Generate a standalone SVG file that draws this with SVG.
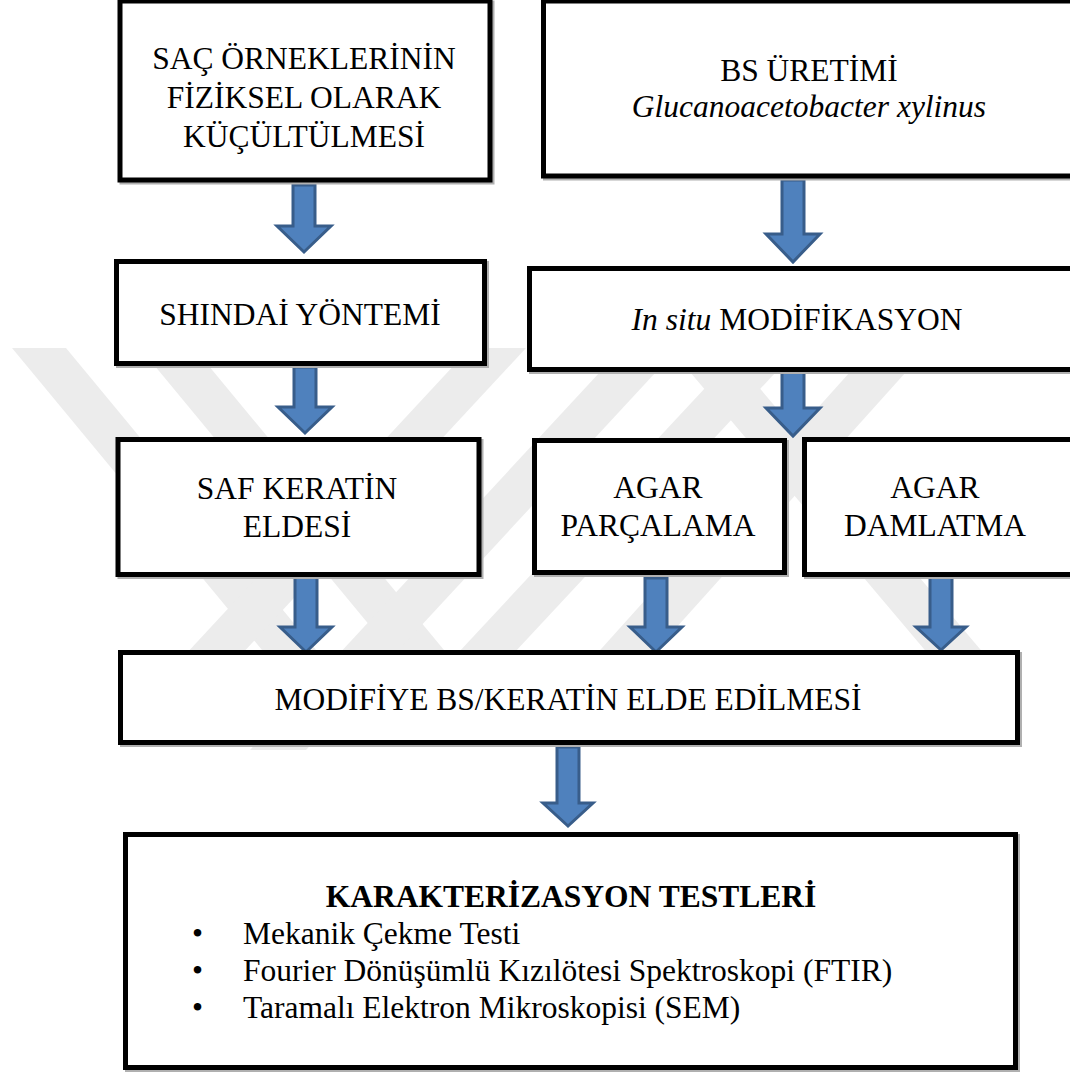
<svg xmlns="http://www.w3.org/2000/svg" width="1070" height="1072" viewBox="0 0 1070 1072">
<style>
.box{fill:#fff;stroke:#000;stroke-width:5}
.shadow{fill:none;stroke:#b0b0b0;stroke-width:5}
.t{font-family:"Liberation Serif","Times New Roman",serif;font-size:31.5px;fill:#000;text-anchor:middle}
.tl{font-family:"Liberation Serif","Times New Roman",serif;font-size:31.5px;fill:#000}
.b{font-weight:bold}
.i{font-style:italic}
.arrow{fill:#4f81bd;stroke:#385d8a;stroke-width:3;stroke-linejoin:miter}
.wm{fill:#ececec}
</style>
<rect x="0" y="0" width="1070" height="1072" fill="#fff"/>
<g id="watermark">
<polygon class="wm" points="12,348 66,348 316,650 262,650"/>
<polygon class="wm" points="140,348 194,348 444,650 390,650"/>
<polygon class="wm" points="470,348 526,348 176,725 120,725"/>
<polygon class="wm" points="600,372 656,372 306,750 250,750"/>
<polygon class="wm" points="720,372 776,372 500,668 444,668"/>
<polygon class="wm" points="690,372 746,372 996,668 940,668"/>
<polygon class="wm" points="850,372 906,372 640,668 584,668"/>
</g>
<g id="connectors">
<path class="arrow" d="M293,185 H315 V226 H331 L304,252 L277,226 H293 Z"/>
<path class="arrow" d="M782,180 H804 V234 H820 L793,262 L766,234 H782 Z"/>
<path class="arrow" d="M294,367 H316 V407 H332 L305,433 L278,407 H294 Z"/>
<path class="arrow" d="M782,372 H804 V408 H820 L793,436 L766,408 H782 Z"/>
<path class="arrow" d="M295,577 H317 V627 H332 L306,652 L280,627 H295 Z"/>
<path class="arrow" d="M645,578 H667 V627 H682 L656,652 L630,627 H645 Z"/>
<path class="arrow" d="M930,573 H952 V627 H966 L941,650 L916,627 H930 Z"/>
<path class="arrow" d="M557,747 H579 V803 H593 L568,826 L543,803 H557 Z"/>
</g>
<g id="n1">
<rect class="shadow" x="122" y="3" width="370" height="179"/>
<rect class="box" x="120" y="1" width="370" height="179"/>
<text class="t" x="304" y="69">SAÇ ÖRNEKLERİNİN</text>
<text class="t" x="304" y="108">FİZİKSEL OLARAK</text>
<text class="t" x="304" y="147">KÜÇÜLTÜLMESİ</text>
</g>
<g id="n2">
<rect class="shadow" x="545.5" y="3" width="540" height="175"/>
<rect class="box" x="543.5" y="1" width="540" height="175"/>
<text class="t" x="809" y="81">BS ÜRETİMİ</text>
<text class="t i" x="809" y="117">Glucanoacetobacter xylinus</text>
</g>
<g id="n3">
<rect class="shadow" x="118.5" y="263.5" width="368" height="102"/>
<rect class="box" x="116.5" y="261.5" width="368" height="102"/>
<text class="t" x="300" y="325">SHINDAİ YÖNTEMİ</text>
</g>
<g id="n4">
<rect class="shadow" x="531.5" y="270.5" width="560" height="101"/>
<rect class="box" x="529.5" y="268.5" width="560" height="101"/>
<text class="t" x="797" y="330"><tspan class="i">In situ</tspan> MODİFİKASYON</text>
</g>
<g id="n5">
<rect class="shadow" x="120" y="441.5" width="361" height="135"/>
<rect class="box" x="118" y="439.5" width="361" height="135"/>
<text class="t" x="297" y="499">SAF KERATİN</text>
<text class="t" x="297" y="537">ELDESİ</text>
</g>
<g id="n6">
<rect class="shadow" x="536.5" y="442.5" width="250" height="132"/>
<rect class="box" x="534.5" y="440.5" width="250" height="132"/>
<text class="t" x="658" y="498">AGAR</text>
<text class="t" x="658" y="536">PARÇALAMA</text>
</g>
<g id="n7">
<rect class="shadow" x="806.5" y="441.5" width="270" height="135"/>
<rect class="box" x="804.5" y="439.5" width="270" height="135"/>
<text class="t" x="935" y="498">AGAR</text>
<text class="t" x="935" y="536">DAMLATMA</text>
</g>
<g id="n8">
<rect class="shadow" x="122.5" y="654.5" width="897" height="90"/>
<rect class="box" x="120.5" y="652.5" width="897" height="90"/>
<text class="t" x="568" y="710">MODİFİYE BS/KERATİN ELDE EDİLMESİ</text>
</g>
<g id="n9">
<rect class="shadow" x="127.5" y="836.5" width="890" height="233"/>
<rect class="box" x="125.5" y="834.5" width="890" height="233"/>
<text class="t b" x="571" y="907">KARAKTERİZASYON TESTLERİ</text>
<text class="tl" x="192" y="944">•</text>
<text class="tl" x="243" y="944">Mekanik Çekme Testi</text>
<text class="tl" x="192" y="981">•</text>
<text class="tl" x="243" y="981">Fourier Dönüşümlü Kızılötesi Spektroskopi (FTIR)</text>
<text class="tl" x="192" y="1018">•</text>
<text class="tl" x="243" y="1018">Taramalı Elektron Mikroskopisi (SEM)</text>
</g>
</svg>
